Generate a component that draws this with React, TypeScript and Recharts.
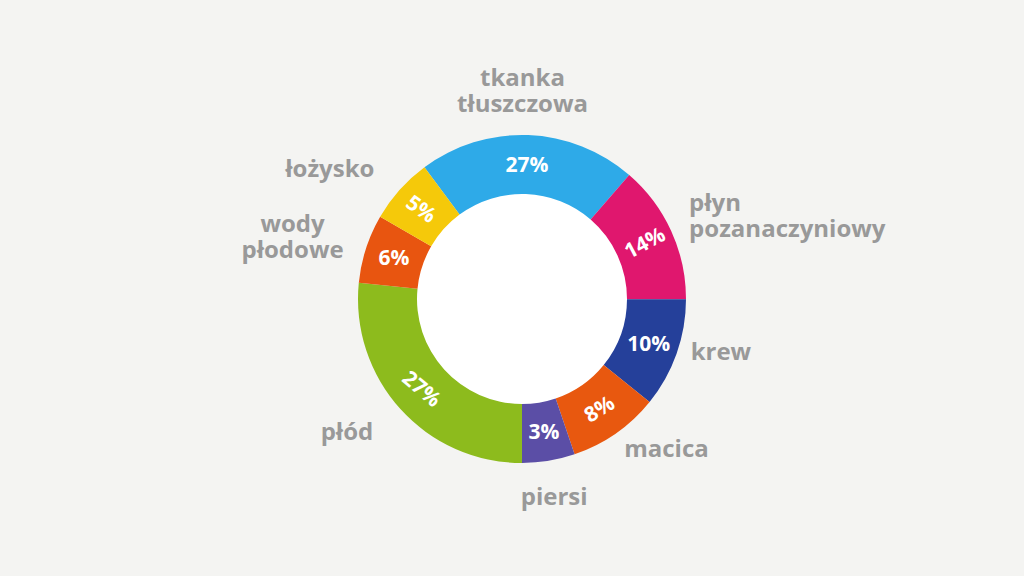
import { PieChart, Pie, Cell } from 'recharts';

// Donut of weight gain components in pregnancy

const categories = [
  'tkanka\ntłuszczowa',
  'płyn\npozanaczyniowy',
  'krew',
  'macica',
  'piersi',
  'płód',
  'wody\npłodowe',
  'łożysko',
];

// slice sizes as drawn in the picture
const shares = [21.5, 13.7, 10.8, 9.0, 5.2, 26.6, 6.8, 6.5];

// percentages printed on the slices
const percentLabels = ['27%', '14%', '10%', '8%', '3%', '27%', '6%', '5%'];

const COLORS = ['#2eaae8', '#e0176e', '#25409a', '#e8580f', '#5b4ea6', '#8dbb1d', '#e85510', '#f5c90a'];

// label styling per slice
const PERCENT_ROTATION = [0, -28, 0, -32, 0, 40, 0, 35];
const NAME_ANCHOR = ['middle', 'start', 'start', 'start', 'middle', 'end', 'middle', 'end'];
const NAME_NUDGE: [number, number][] = [[-7, -12], [-13, -3], [-18, -15], [-11, -14], [0, 1], [-2, -2], [-41, -3], [0, 0]];

const RAD = Math.PI / 180;
const FONT = '"Open Sans", sans-serif';

const data = categories.map((name, i) => ({ name, value: shares[i] }));

function renderLabel(props: any) {
  const { cx, cy, midAngle, innerRadius, outerRadius, index } = props;
  const cos = Math.cos(-midAngle * RAD);
  const sin = Math.sin(-midAngle * RAD);

  // percent inside the ring
  const rIn = (innerRadius + outerRadius) / 2;
  const px = cx + rIn * cos;
  const py = cy + rIn * sin - 1;

  // category name outside
  const rOut = outerRadius + 34;
  const nx = cx + rOut * cos + NAME_NUDGE[index][0];
  const ny = cy + rOut * sin + NAME_NUDGE[index][1];
  const lines = categories[index].split('\n');
  const lh = 26;
  const y0 = ny - ((lines.length - 1) * lh) / 2;

  return (
    <g>
      <text
        x={px}
        y={py}
        fill="#ffffff"
        fontFamily={FONT}
        fontWeight={700}
        fontSize={21}
        textAnchor="middle"
        dominantBaseline="central"
        transform={`rotate(${PERCENT_ROTATION[index]} ${px} ${py})`}
      >
        {percentLabels[index]}
      </text>
      <text
        x={nx}
        y={y0}
        fill="#999999"
        fontFamily={FONT}
        fontWeight={700}
        fontSize={24}
        textAnchor={NAME_ANCHOR[index] as any}
        dominantBaseline="central"
      >
        {lines.map((l, i) => (
          <tspan key={i} x={nx} y={y0 + i * lh}>
            {l}
          </tspan>
        ))}
      </text>
    </g>
  );
}

export default function App() {
  return (
    <div style={{ position: 'fixed', top: 0, left: 0, width: 1024, height: 576, background: '#f4f4f2' }}>
      <PieChart width={1024} height={576}>
        <Pie
          data={[{ name: 'hole', value: 1 }]}
          dataKey="value"
          cx={517}
          cy={294}
          innerRadius={0}
          outerRadius={106}
          fill="#ffffff"
          stroke="none"
          isAnimationActive={false}
        />
        <Pie
          data={data}
          dataKey="value"
          cx={517}
          cy={294}
          innerRadius={105}
          outerRadius={164}
          startAngle={126.5}
          endAngle={-233.5}
          stroke="none"
          labelLine={false}
          label={renderLabel}
          isAnimationActive={false}
        >
          {data.map((entry, index) => (
            <Cell key={`cell-${index}`} fill={COLORS[index]} />
          ))}
        </Pie>
      </PieChart>
    </div>
  );
}
